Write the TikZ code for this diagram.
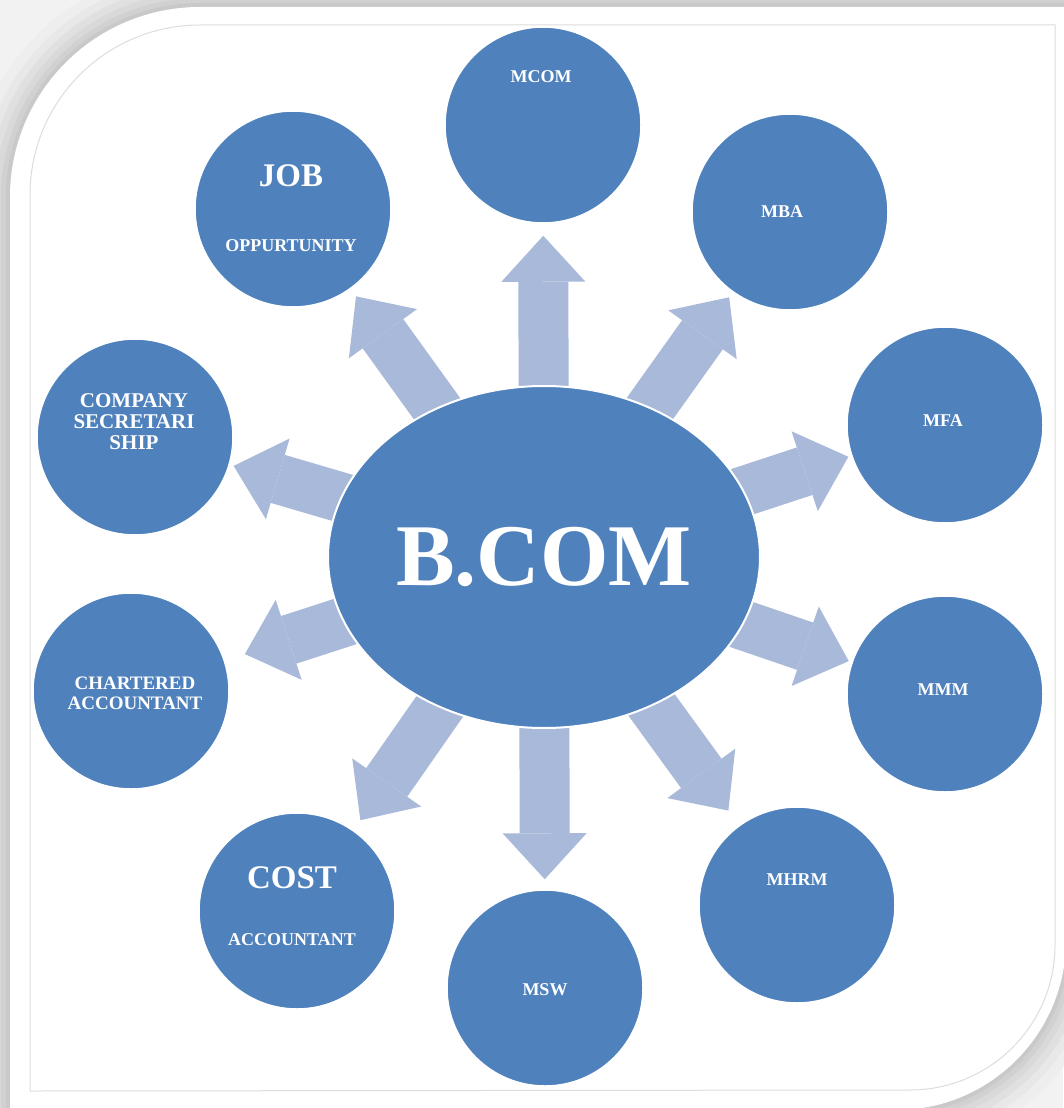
\documentclass[tikz,border=0pt]{standalone}
\usepackage{fontspec}
\setmainfont{Liberation Serif}
\usepackage{tikz}
\usetikzlibrary{arrows.meta,shapes.geometric,backgrounds}
\definecolor{disc}{HTML}{4F81BD}
\definecolor{pointer}{HTML}{A9B9DA}
\definecolor{rim}{HTML}{DDDDDD}
\newcommand{\discfont}{\fontsize{18}{21}\selectfont}
\newcommand{\headfont}{\fontsize{33}{33}\selectfont}

\begin{document}
\begin{tikzpicture}[x=1pt,y=1pt,yscale=-1,
  every node/.style={font=\bfseries\discfont,text=white},
  course/.style={circle,fill=disc,draw=white,line width=1.5pt,minimum size=196pt,inner sep=0pt},
  caption/.style={align=center,inner sep=0pt},
  blockarrow/.style={draw=pointer,line width=50pt,shorten <=-20pt,
    -{Triangle[width=84pt,length=46pt,line width=0pt]}}]
  \useasboundingbox (0,0) rectangle (1063,1108);
  % sheet with soft shadow and inner rule
  \begin{pgfonlayer}{background}
    \fill[gray!10] (0,0) rectangle (1063,1108);
    \foreach \w/\c in {80/13,60/18,44/24,30/30,18/36,8/42}
      \draw[line width=\w pt,gray!\c] (10,1120) -- (10,197) arc[start angle=180,end angle=270,radius=190pt]
        -- (1066,7) -- (1066,940) arc[start angle=0,end angle=90,radius=170pt] -- (10,1110) -- cycle;
    \fill[white] (10,1120) -- (10,197) arc[start angle=180,end angle=270,radius=190pt]
      -- (1066,7) -- (1066,940) arc[start angle=0,end angle=90,radius=170pt] -- (10,1110) -- cycle;
    \draw[rim,line width=1pt] (30,1091) -- (30,195) arc[start angle=180,end angle=270,radius=170pt]
      -- (1055,25) -- (1055,945) arc[start angle=0,end angle=90,radius=145pt] -- cycle;
  \end{pgfonlayer}

  % centre
  \node[ellipse,fill=disc,draw=white,line width=2pt,minimum width=432pt,minimum height=342pt,
    inner sep=0pt,font=\bfseries\fontsize{88}{88}\selectfont] (bcom) at (544,557) {B.COM};

  % courses around it
  \foreach \n/\x/\y in {mcom/543/125, mba/790/212, mfa/945/425, mmm/945/694, mhrm/797/905,
      msw/545/988, cost/297/911, chart/131/691, comp/135/437, job/293/209}
    \node[course] (\n) at (\x,\y) {};

  \node[caption] (mcomtxt) at (541,77) {MCOM};
  \node[caption] (mbatxt) at (782,212) {MBA};
  \node[caption] (mfatxt) at (943,421) {MFA};
  \node[caption] (mmmtxt) at (943,690) {MMM};
  \node[caption] (mhrmtxt) at (797,880) {MHRM};
  \node[caption] (mswtxt) at (545,990) {MSW};
  \node[caption] (costtxt) at (292,906) {{\headfont COST}\\[36pt]ACCOUNTANT};
  \node[caption,font=\bfseries\fontsize{19}{20}\selectfont] (charttxt) at (135,693) {CHARTERED\\ACCOUNTANT};
  \node[caption,font=\bfseries\fontsize{21}{21}\selectfont] (comptxt) at (134,422) {COMPANY\\SECRETARI\\SHIP};
  \node[caption] (jobtxt) at (291,208) {{\headfont JOB}\\[44pt]OPPURTUNITY};

  % pointers out of the centre
  \begin{pgfonlayer}{background}
    \foreach \t/\g in {mcom/12, mba/6, mfa/3, mmm/3, mhrm/18, msw/10, cost/12, chart/21, comp/4, job/9}
      \draw[blockarrow,shorten >=\g pt] (bcom) -- (\t);
  \end{pgfonlayer}
\end{tikzpicture}
\end{document}
